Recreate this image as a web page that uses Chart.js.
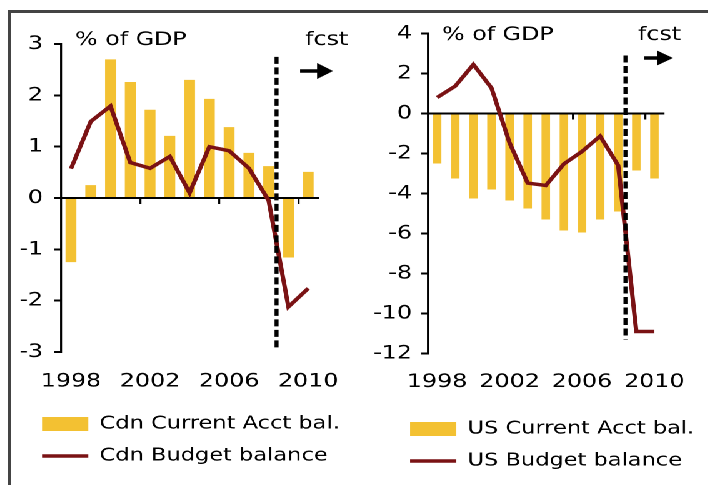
<!DOCTYPE html>
<html>
<head>
<meta charset="utf-8">
<script src="https://cdn.jsdelivr.net/npm/chart.js@4.4.1/dist/chart.umd.min.js"></script>
<style>
  html, body { margin: 0; padding: 0; background: #fff; }
  #page { position: relative; width: 708px; height: 485px; overflow: hidden; background: #fff; }
  #frame { position: absolute; left: 8px; top: 10px; width: 740px; height: 520px; border: 3px solid #444; box-sizing: border-box; }
  /* the charts are laid out narrow and widened by 25% */
  #stretch { position: absolute; left: 0; top: 0; width: 566.4px; height: 485px; transform: scaleX(1.25); transform-origin: 0 0; }
  #cdn { position: absolute; left: 10px; top: 0; }
  #us { position: absolute; left: 284px; top: 0; }
</style>
</head>
<body>
<div id="page">
  <div id="frame"></div>
  <div id="stretch">
    <canvas id="cdn" width="290" height="485"></canvas>
    <canvas id="us" width="282" height="485"></canvas>
  </div>
</div>
<script>
// % of GDP, 2009-2010 are forecasts
const years = ['1998', '1999', '2000', '2001', '2002', '2003', '2004', '2005', '2006', '2007', '2008', '2009', '2010'];
const yearLabels = ['1998', '2002', '2006', '2010'];

const cdnCurrentAcct = [-1.25, 0.25, 2.7, 2.26, 1.72, 1.21, 2.3, 1.93, 1.38, 0.88, 0.62, -1.16, 0.51];
const cdnBudget = [0.57, 1.49, 1.79, 0.69, 0.58, 0.81, 0.1, 1.0, 0.92, 0.58, -0.05, -2.12, -1.76];
const cdnTicks = [3, 2, 1, 0, -1, -2, -3];

const usCurrentAcct = [-2.5, -3.25, -4.25, -3.8, -4.35, -4.75, -5.3, -5.85, -5.95, -5.3, -4.9, -2.85, -3.25];
const usBudget = [0.8, 1.37, 2.45, 1.28, -1.47, -3.48, -3.6, -2.52, -1.9, -1.13, -2.6, -10.9, -10.9];
const usTicks = [4, 2, 0, -2, -4, -6, -8, -10, -12];

// forecast divider sits between 2008 and 2009
const fcstIndex = 10.4;

const BAR = '#F3C132';
const LINE = '#7A1214';
const FONT = "'DejaVu Sans', Verdana, sans-serif";

Chart.defaults.font.family = FONT;
Chart.defaults.font.size = 19;
Chart.defaults.color = '#000';

const forecastMarker = {
  id: 'forecastMarker',
  afterDatasetsDraw(chart, args, o) {
    const { ctx, scales: { x, y } } = chart;
    const px = x.getPixelForValue(fcstIndex);
    ctx.save();
    ctx.strokeStyle = '#000';
    ctx.lineWidth = 3.2;
    ctx.setLineDash([7, 3.5]);
    ctx.beginPath();
    ctx.moveTo(px, y.getPixelForValue(o.span[0]));
    ctx.lineTo(px, y.getPixelForValue(o.span[1]));
    ctx.stroke();
    ctx.setLineDash([]);

    ctx.fillStyle = '#000';
    ctx.font = '19px ' + FONT;
    ctx.textBaseline = 'alphabetic';
    ctx.textAlign = 'left';
    ctx.fillText('% of GDP', o.unitAt[0], o.unitAt[1]);
    ctx.fillText('fcst', o.fcstAt[0], o.fcstAt[1]);

    // arrow pointing into the forecast years
    const [x0, xb, xt, ay, hh] = o.arrow;
    ctx.lineWidth = 3.5;
    ctx.beginPath();
    ctx.moveTo(x0, ay);
    ctx.lineTo(xb + 1, ay);
    ctx.stroke();
    ctx.beginPath();
    ctx.moveTo(xb, ay - hh);
    ctx.lineTo(xt, ay);
    ctx.lineTo(xb, ay + hh);
    ctx.closePath();
    ctx.fill();
    ctx.restore();
  }
};

// y tick labels need the full left margin, so the legend is indented on its own
const legendIndent = {
  id: 'legendIndent',
  afterLayout(chart, args, o) {
    const lg = chart.legend;
    lg.left += o.indent;
    lg.right = chart.width;
    lg.width = lg.right - lg.left;
  }
};

function legendLabels(chart) {
  return Chart.defaults.plugins.legend.labels.generateLabels(chart)
    .sort((a, b) => a.datasetIndex - b.datasetIndex)
    .map(item => Object.assign(item, { pointStyle: item.datasetIndex === 0 ? 'rect' : 'line' }));
}

function makeChart(id, opts) {
  return new Chart(document.getElementById(id), {
    type: 'bar',
    data: {
      labels: years,
      datasets: [
        {
          type: 'bar',
          label: opts.barLabel,
          data: opts.bars,
          backgroundColor: BAR,
          borderWidth: 0,
          barPercentage: opts.barPct,
          categoryPercentage: 1,
          order: 2,
          xAxisID: 'x',
          yAxisID: 'y'
        },
        {
          type: 'line',
          label: opts.lineLabel,
          data: opts.line,
          borderColor: LINE,
          borderWidth: 3.5,
          pointRadius: 0,
          tension: 0,
          order: 1,
          xAxisID: 'x',
          yAxisID: 'y'
        }
      ]
    },
    options: {
      responsive: false,
      animation: false,
      devicePixelRatio: 2,
      layout: { padding: opts.padding },
      scales: {
        x: {
          type: 'category',
          axis: 'x',
          position: 'bottom',
          offset: true,
          grid: { display: false, drawTicks: false },
          border: { display: false },
          ticks: {
            autoSkip: false,
            maxRotation: 0,
            padding: opts.xPad,
            callback(v) {
              const label = this.getLabelForValue(v);
              return yearLabels.includes(label) ? label : '';
            }
          },
          afterFit(s) { s.height = opts.xHeight; }
        },
        zero: {
          type: 'category',
          axis: 'x',
          position: { y: 0 },
          offset: true,
          ticks: { display: false },
          grid: {
            offset: true,
            drawOnChartArea: false,
            drawTicks: true,
            tickLength: 5,
            lineWidth: 1.6,
            color: c => (c.index > 0 && c.index % 4 === 0) ? '#000' : 'rgba(0,0,0,0)'
          },
          border: { display: true, color: '#000', width: 2 }
        },
        y: {
          type: 'linear',
          axis: 'y',
          position: 'left',
          min: Math.min(...opts.ticks),
          max: Math.max(...opts.ticks),
          afterBuildTicks(s) { s.ticks = opts.ticks.map(v => ({ value: v })); },
          grid: { drawOnChartArea: false, drawTicks: true, tickLength: 5.6, lineWidth: 2, color: '#000' },
          border: { display: true, color: '#000', width: 1.6 },
          ticks: { padding: opts.yPad },
          afterFit(s) { s.width = opts.yWidth; }
        }
      },
      plugins: {
        tooltip: { enabled: false },
        legend: {
          position: 'bottom',
          align: 'start',
          labels: {
            usePointStyle: true,
            pointStyleWidth: 37,
            boxHeight: 14,
            padding: 14,
            color: '#000',
            font: { size: 18 },
            generateLabels: legendLabels
          }
        },
        legendIndent: { indent: opts.legendIndent },
        forecastMarker: opts.marker
      }
    },
    plugins: [forecastMarker, legendIndent]
  });
}

makeChart('cdn', {
  barLabel: 'Cdn Current Acct bal.',
  lineLabel: 'Cdn Budget balance',
  bars: cdnCurrentAcct,
  line: cdnBudget,
  ticks: cdnTicks,
  barPct: 0.55,
  padding: { left: 2, right: 45.6, top: 44, bottom: 10 },
  yWidth: 36.8,
  yPad: 8.8,
  xHeight: 49,
  xPad: 18,
  legendIndent: 7.6,
  marker: {
    span: [2.75, -2.96],
    unitAt: [50, 45],
    fcstAt: [234, 45],
    arrow: [230, 243.6, 256.4, 71, 8]
  }
});

makeChart('us', {
  barLabel: 'US Current Acct bal.',
  lineLabel: 'US Budget balance',
  bars: usCurrentAcct,
  line: usBudget,
  ticks: usTicks,
  barPct: 0.47,
  padding: { left: 2, right: 34, top: 33.5, bottom: 5 },
  yWidth: 56.4,
  yPad: 7.2,
  xHeight: 52.5,
  xPad: 17,
  legendIndent: 28,
  marker: {
    span: [2.9, -11.3],
    unitAt: [69.6, 40],
    fcstAt: [226.4, 40],
    arrow: [231.2, 241.6, 254.4, 58, 7.5]
  }
});
</script>
</body>
</html>
